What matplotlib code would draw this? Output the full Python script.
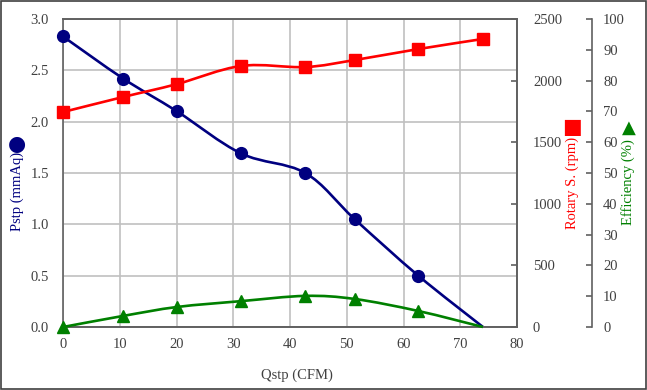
import matplotlib
matplotlib.use("Agg")
import matplotlib.pyplot as plt
from matplotlib.path import Path
from matplotlib.patches import PathPatch, Rectangle
from matplotlib.ticker import MultipleLocator
import numpy as np

plt.rcParams["font.family"] = ["Liberation Serif", "DejaVu Sans"]
plt.rcParams["font.size"] = 10.5

# data
qstp = [0.0, 10.6, 20.1, 31.4, 42.7, 51.4, 62.6, 74.0]
pstp = [2.83, 2.42, 2.10, 1.69, 1.50, 1.05, 0.50, 0.0]
rotary = [1745, 1867, 1972, 2119, 2110, 2167, 2256, 2338]
efficiency = [0.0, 3.6, 6.5, 8.4, 10.1, 9.1, 5.2, 0.0]

NAVY = "#000080"
RED = "#ff0000"
GREEN = "#008000"
GRAY = "#404040"


def smooth_path(x, y, xr, yr):
    # Excel-like smoothed line: cubic bezier through points (Catmull-Rom control points)
    x = np.asarray(x, float) / xr
    y = np.asarray(y, float) / yr
    n = len(x)
    verts = [(x[0], y[0])]
    codes = [Path.MOVETO]
    for i in range(n - 1):
        p0 = np.array([x[max(i - 1, 0)], y[max(i - 1, 0)]])
        p1 = np.array([x[i], y[i]])
        p2 = np.array([x[i + 1], y[i + 1]])
        p3 = np.array([x[min(i + 2, n - 1)], y[min(i + 2, n - 1)]])
        c1 = p1 + (p2 - p0) / 6
        c2 = p2 - (p3 - p1) / 6
        verts += [tuple(c1), tuple(c2), tuple(p2)]
        codes += [Path.CURVE4] * 3
    verts = [(vx * xr, vy * yr) for vx, vy in verts]
    return Path(verts, codes)


fig = plt.figure(figsize=(6.47, 3.9), dpi=100)
fig.patches.append(Rectangle((0.001, 0.002), 0.997, 0.995, transform=fig.transFigure,
                             fill=False, edgecolor="#404040", linewidth=1.2))
ax = fig.add_axes([63 / 647, 1 - 327 / 390, 454 / 647, 308 / 390])
ax2 = ax.twinx()
ax3 = ax.twinx()

ax.set_xlim(0, 80)
ax.set_ylim(0, 3.0)
ax2.set_ylim(0, 2500)
ax3.set_ylim(0, 100)

ax.xaxis.set_major_locator(MultipleLocator(10))
ax.yaxis.set_major_locator(MultipleLocator(0.5))
ax.yaxis.set_major_formatter(lambda v, p: f"{v:.1f}")
ax2.yaxis.set_major_locator(MultipleLocator(500))
ax3.yaxis.set_major_locator(MultipleLocator(10))

ax.grid(True, color="#c0c0c0", linewidth=1.2)
ax.set_axisbelow(True)

for a in (ax, ax2, ax3):
    for s in a.spines.values():
        s.set_color("#606060")
        s.set_linewidth(1.2)
ax2.spines["left"].set_visible(False)
ax3.spines["left"].set_visible(False)
ax3.spines["top"].set_visible(False)
ax3.spines["bottom"].set_visible(False)
ax3.spines["right"].set_position(("axes", (592 - 63) / 454))

ax.tick_params(axis="both", length=0, colors=GRAY, labelsize=10.5)
ax.tick_params(axis="y", pad=10)
ax.tick_params(axis="x", pad=8)
ax2.tick_params(axis="y", direction="in", length=4, width=1.2, color="#606060",
                labelcolor=GRAY, pad=11.5, labelsize=10.5)
ax3.tick_params(axis="y", direction="in", length=4, width=1.2, color="#606060",
                labelcolor=GRAY, pad=8, labelsize=10.5)

# lines
ax.add_patch(PathPatch(smooth_path(qstp, pstp, 80, 3.0), fill=False, edgecolor=NAVY,
                       linewidth=1.9, clip_on=False))
ax2.add_patch(PathPatch(smooth_path(qstp, rotary, 80, 2500), fill=False, edgecolor=RED,
                        linewidth=1.9, clip_on=False))
ax3.add_patch(PathPatch(smooth_path(qstp, efficiency, 80, 100), fill=False, edgecolor=GREEN,
                        linewidth=1.9, clip_on=False))

# last pstp / efficiency points carry no marker in the original
ax.plot(qstp[:-1], pstp[:-1], linestyle="none", marker="o", markersize=8.5, color=NAVY,
        clip_on=False, zorder=5)
ax2.plot(qstp, rotary, linestyle="none", marker="s", markersize=8, color=RED,
         clip_on=False, zorder=5)
ax3.plot(qstp[:-1], efficiency[:-1], linestyle="none", marker="^", markersize=8, color=GREEN,
         clip_on=False, zorder=5)

ax.set_xlabel("Qstp (CFM)", color=GRAY, fontsize=10.5)
ax.xaxis.set_label_coords((297 - 63) / 454, -(369 - 327) / 308)

# axis titles with their marker symbols drawn separately
fig.text(17 / 647, 1 - 191 / 390, "Pstp (mmAq)", color=NAVY, rotation=90,
         ha="center", va="center")
fig.text(17 / 647, 1 - 144 / 390, "●", color=NAVY, fontsize=15, family="DejaVu Sans",
         ha="center", va="center")
fig.text(572 / 647, 1 - 183 / 390, "Rotary S. (rpm)", color=RED, rotation=90,
         ha="center", va="center")
fig.text(572 / 647, 1 - 127 / 390, "■", color=RED, fontsize=15, family="DejaVu Sans",
         ha="center", va="center")
fig.text(628 / 647, 1 - 182 / 390, "Efficiency (%)", color=GREEN, rotation=90,
         ha="center", va="center")
fig.text(629 / 647, 1 - 128 / 390, "▲", color=GREEN, fontsize=13, family="DejaVu Sans",
         ha="center", va="center")

fig.savefig("out.png", dpi=100)
